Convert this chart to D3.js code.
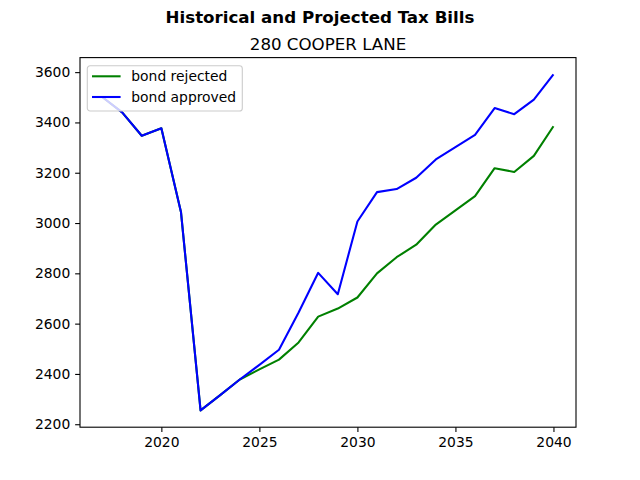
<!DOCTYPE html>
<html>
<head>
<meta charset="utf-8">
<script src="https://cdn.jsdelivr.net/npm/d3@7"></script>
<style>
  body { margin: 0; background: #fff; }
  text { font-family: "DejaVu Sans", sans-serif; }
</style>
</head>
<body>
<div id="chart"></div>
<script>
// data
const years = [2017, 2018, 2019, 2020, 2021, 2022, 2023, 2024, 2025, 2026, 2027, 2028,
               2029, 2030, 2031, 2032, 2033, 2034, 2035, 2036, 2037, 2038, 2039, 2040];
const bondRejected = [3500, 3440, 3347, 3377, 3044, 2255, 2316, 2378, 2418, 2457, 2525, 2628,
                      2660, 2704, 2800, 2864, 2914, 2994, 3050, 3107, 3218, 3203, 3267, 3385];
const bondApproved = [3500, 3440, 3347, 3377, 3044, 2255, 2316, 2378, 2436, 2496, 2644, 2802,
                      2717, 3006, 3123, 3135, 3180, 3253, 3302, 3351, 3457, 3433, 3491, 3591];
const yTicks = [2200, 2400, 2600, 2800, 3000, 3200, 3400, 3600];
const xTicks = [2020, 2025, 2030, 2035, 2040];

const width = 640, height = 480;
const plotLeft = 80, plotRight = 576, plotTop = 57.6, plotBottom = 427.2;

const svg = d3.select("#chart").append("svg")
    .attr("width", width)
    .attr("height", height);

// matplotlib-style 5% margins
const xExt = d3.extent(years);
const xPad = (xExt[1] - xExt[0]) * 0.05;
const allVals = bondRejected.concat(bondApproved);
const yExt = d3.extent(allVals);
const yPad = (yExt[1] - yExt[0]) * 0.05;

const x = d3.scaleLinear().domain([xExt[0] - xPad, xExt[1] + xPad]).range([plotLeft, plotRight]);
const y = d3.scaleLinear().domain([yExt[0] - yPad, yExt[1] + yPad]).range([plotBottom, plotTop]);

// axes
const xAxis = svg.append("g")
    .attr("transform", `translate(0,${plotBottom})`)
    .call(d3.axisBottom(x).tickValues(xTicks).tickFormat(d3.format("d")).tickSize(4.86).tickPadding(4.86));
const yAxis = svg.append("g")
    .attr("transform", `translate(${plotLeft},0)`)
    .call(d3.axisLeft(y).tickValues(yTicks).tickFormat(d3.format("d")).tickSize(4.86).tickPadding(4.86));

[xAxis, yAxis].forEach(a => {
    a.select(".domain").remove();
    a.selectAll("text").style("font-size", "13.89px").attr("fill", "#000");
    a.selectAll("line").attr("stroke", "#000").attr("stroke-width", 1.1);
});

// lines
const line = vals => d3.line()
    .x((d, i) => x(years[i]))
    .y(d => y(d))(vals);

svg.append("path")
    .attr("d", line(bondRejected))
    .attr("fill", "none")
    .attr("stroke", "green")
    .attr("stroke-width", 2.08)
    .attr("stroke-linejoin", "round");

svg.append("path")
    .attr("d", line(bondApproved))
    .attr("fill", "none")
    .attr("stroke", "blue")
    .attr("stroke-width", 2.08)
    .attr("stroke-linejoin", "round");

// frame
svg.append("rect")
    .attr("x", plotLeft).attr("y", plotTop)
    .attr("width", plotRight - plotLeft).attr("height", plotBottom - plotTop)
    .attr("fill", "none")
    .attr("stroke", "#000")
    .attr("stroke-width", 1.1);

// legend
const legend = svg.append("g").attr("transform", "translate(87.3,65.7)");
legend.append("rect")
    .attr("width", 155).attr("height", 45.3)
    .attr("rx", 2.8)
    .attr("fill", "#fff").attr("fill-opacity", 0.8)
    .attr("stroke", "#ccc").attr("stroke-width", 1.1);
const entries = [["bond rejected", "green"], ["bond approved", "blue"]];
entries.forEach(([label, color], i) => {
    const yy = 10.6 + i * 20.7;
    legend.append("line")
        .attr("x1", 4.7).attr("x2", 33.3)
        .attr("y1", yy).attr("y2", yy)
        .attr("stroke", color).attr("stroke-width", 2.08);
    legend.append("text")
        .attr("x", 44).attr("y", yy + 5)
        .style("font-size", "13.89px")
        .text(label);
});

// titles
svg.append("text")
    .attr("x", 320).attr("y", 22.5)
    .attr("text-anchor", "middle")
    .style("font-size", "16.67px")
    .style("font-weight", "bold")
    .text("Historical and Projected Tax Bills");

svg.append("text")
    .attr("x", (plotLeft + plotRight) / 2).attr("y", 50)
    .attr("text-anchor", "middle")
    .style("font-size", "16.67px")
    .text("280 COOPER LANE");
</script>
</body>
</html>
